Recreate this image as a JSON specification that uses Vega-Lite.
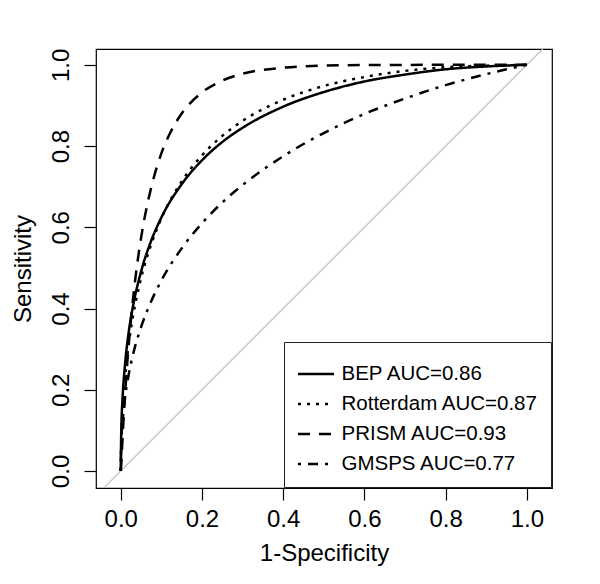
{
  "$schema": "https://vega.github.io/schema/vega-lite/v6.json",
  "autosize": {"type": "none"},
  "padding": {"left": 96, "top": 49, "right": 48, "bottom": 96},
  "width": 456,
  "height": 439,
  "background": "white",
  "config": {
    "view": {"stroke": "black", "strokeWidth": 1.2},
    "axis": {
      "domain": false,
      "grid": false,
      "tickColor": "black",
      "tickWidth": 1.2,
      "tickSize": 12,
      "labelFont": "Liberation Sans",
      "labelFontSize": 24,
      "labelColor": "black",
      "titleFont": "Liberation Sans",
      "titleFontSize": 24,
      "titleFontWeight": "normal",
      "titleColor": "black",
      "labelFlush": false
    },
    "legend": {
      "orient": "none",
      "legendX": 188,
      "legendY": 293,
      "symbolType": "stroke",
      "symbolSize": 1296,
      "symbolStrokeWidth": 2.5,
      "symbolStrokeColor": "black",
      "labelFont": "Liberation Sans",
      "labelFontSize": 20.5,
      "labelColor": "black",
      "labelOffset": 6,
      "labelLimit": 400,
      "padding": 12.5,
      "rowPadding": -9.3,
      "strokeColor": "#222222",
      "fillColor": "white"
    }
  },
  "datasets": {
    "diag": [{"fpr": -0.1, "tpr": -0.1}, {"fpr": 1.1, "tpr": 1.1}],
    "roc": [
      {"model": "BEP AUC=0.86", "fpr": 0, "tpr": 0},
      {"model": "BEP AUC=0.86", "fpr": 0.001, "tpr": 0.087},
      {"model": "BEP AUC=0.86", "fpr": 0.005, "tpr": 0.189},
      {"model": "BEP AUC=0.86", "fpr": 0.01, "tpr": 0.257},
      {"model": "BEP AUC=0.86", "fpr": 0.02, "tpr": 0.345},
      {"model": "BEP AUC=0.86", "fpr": 0.03, "tpr": 0.405},
      {"model": "BEP AUC=0.86", "fpr": 0.05, "tpr": 0.491},
      {"model": "BEP AUC=0.86", "fpr": 0.075, "tpr": 0.567},
      {"model": "BEP AUC=0.86", "fpr": 0.1, "tpr": 0.624},
      {"model": "BEP AUC=0.86", "fpr": 0.15, "tpr": 0.706},
      {"model": "BEP AUC=0.86", "fpr": 0.2, "tpr": 0.765},
      {"model": "BEP AUC=0.86", "fpr": 0.25, "tpr": 0.810},
      {"model": "BEP AUC=0.86", "fpr": 0.3, "tpr": 0.845},
      {"model": "BEP AUC=0.86", "fpr": 0.4, "tpr": 0.897},
      {"model": "BEP AUC=0.86", "fpr": 0.5, "tpr": 0.933},
      {"model": "BEP AUC=0.86", "fpr": 0.6, "tpr": 0.959},
      {"model": "BEP AUC=0.86", "fpr": 0.7, "tpr": 0.976},
      {"model": "BEP AUC=0.86", "fpr": 0.8, "tpr": 0.989},
      {"model": "BEP AUC=0.86", "fpr": 0.9, "tpr": 0.996},
      {"model": "BEP AUC=0.86", "fpr": 1, "tpr": 1},
      {"model": "Rotterdam AUC=0.87", "fpr": 0, "tpr": 0},
      {"model": "Rotterdam AUC=0.87", "fpr": 0.001, "tpr": 0.061},
      {"model": "Rotterdam AUC=0.87", "fpr": 0.005, "tpr": 0.154},
      {"model": "Rotterdam AUC=0.87", "fpr": 0.01, "tpr": 0.223},
      {"model": "Rotterdam AUC=0.87", "fpr": 0.02, "tpr": 0.315},
      {"model": "Rotterdam AUC=0.87", "fpr": 0.03, "tpr": 0.380},
      {"model": "Rotterdam AUC=0.87", "fpr": 0.05, "tpr": 0.475},
      {"model": "Rotterdam AUC=0.87", "fpr": 0.075, "tpr": 0.558},
      {"model": "Rotterdam AUC=0.87", "fpr": 0.1, "tpr": 0.622},
      {"model": "Rotterdam AUC=0.87", "fpr": 0.15, "tpr": 0.713},
      {"model": "Rotterdam AUC=0.87", "fpr": 0.2, "tpr": 0.777},
      {"model": "Rotterdam AUC=0.87", "fpr": 0.25, "tpr": 0.825},
      {"model": "Rotterdam AUC=0.87", "fpr": 0.3, "tpr": 0.862},
      {"model": "Rotterdam AUC=0.87", "fpr": 0.4, "tpr": 0.914},
      {"model": "Rotterdam AUC=0.87", "fpr": 0.5, "tpr": 0.948},
      {"model": "Rotterdam AUC=0.87", "fpr": 0.6, "tpr": 0.970},
      {"model": "Rotterdam AUC=0.87", "fpr": 0.7, "tpr": 0.985},
      {"model": "Rotterdam AUC=0.87", "fpr": 0.8, "tpr": 0.994},
      {"model": "Rotterdam AUC=0.87", "fpr": 0.9, "tpr": 0.998},
      {"model": "Rotterdam AUC=0.87", "fpr": 1, "tpr": 1},
      {"model": "PRISM AUC=0.93", "fpr": 0, "tpr": 0},
      {"model": "PRISM AUC=0.93", "fpr": 0.001, "tpr": 0.015},
      {"model": "PRISM AUC=0.93", "fpr": 0.0025, "tpr": 0.045},
      {"model": "PRISM AUC=0.93", "fpr": 0.005, "tpr": 0.093},
      {"model": "PRISM AUC=0.93", "fpr": 0.01, "tpr": 0.179},
      {"model": "PRISM AUC=0.93", "fpr": 0.015, "tpr": 0.253},
      {"model": "PRISM AUC=0.93", "fpr": 0.02, "tpr": 0.316},
      {"model": "PRISM AUC=0.93", "fpr": 0.03, "tpr": 0.422},
      {"model": "PRISM AUC=0.93", "fpr": 0.04, "tpr": 0.506},
      {"model": "PRISM AUC=0.93", "fpr": 0.05, "tpr": 0.574},
      {"model": "PRISM AUC=0.93", "fpr": 0.06, "tpr": 0.630},
      {"model": "PRISM AUC=0.93", "fpr": 0.075, "tpr": 0.698},
      {"model": "PRISM AUC=0.93", "fpr": 0.1, "tpr": 0.782},
      {"model": "PRISM AUC=0.93", "fpr": 0.125, "tpr": 0.839},
      {"model": "PRISM AUC=0.93", "fpr": 0.15, "tpr": 0.880},
      {"model": "PRISM AUC=0.93", "fpr": 0.2, "tpr": 0.932},
      {"model": "PRISM AUC=0.93", "fpr": 0.25, "tpr": 0.961},
      {"model": "PRISM AUC=0.93", "fpr": 0.3, "tpr": 0.978},
      {"model": "PRISM AUC=0.93", "fpr": 0.4, "tpr": 0.993},
      {"model": "PRISM AUC=0.93", "fpr": 0.5, "tpr": 0.998},
      {"model": "PRISM AUC=0.93", "fpr": 0.6, "tpr": 0.9995},
      {"model": "PRISM AUC=0.93", "fpr": 0.8, "tpr": 1},
      {"model": "PRISM AUC=0.93", "fpr": 1, "tpr": 1},
      {"model": "GMSPS AUC=0.77", "fpr": 0, "tpr": 0},
      {"model": "GMSPS AUC=0.77", "fpr": 0.001, "tpr": 0.061},
      {"model": "GMSPS AUC=0.77", "fpr": 0.005, "tpr": 0.129},
      {"model": "GMSPS AUC=0.77", "fpr": 0.01, "tpr": 0.177},
      {"model": "GMSPS AUC=0.77", "fpr": 0.02, "tpr": 0.240},
      {"model": "GMSPS AUC=0.77", "fpr": 0.03, "tpr": 0.286},
      {"model": "GMSPS AUC=0.77", "fpr": 0.05, "tpr": 0.354},
      {"model": "GMSPS AUC=0.77", "fpr": 0.075, "tpr": 0.418},
      {"model": "GMSPS AUC=0.77", "fpr": 0.1, "tpr": 0.469},
      {"model": "GMSPS AUC=0.77", "fpr": 0.15, "tpr": 0.548},
      {"model": "GMSPS AUC=0.77", "fpr": 0.2, "tpr": 0.610},
      {"model": "GMSPS AUC=0.77", "fpr": 0.25, "tpr": 0.661},
      {"model": "GMSPS AUC=0.77", "fpr": 0.3, "tpr": 0.704},
      {"model": "GMSPS AUC=0.77", "fpr": 0.4, "tpr": 0.775},
      {"model": "GMSPS AUC=0.77", "fpr": 0.5, "tpr": 0.832},
      {"model": "GMSPS AUC=0.77", "fpr": 0.6, "tpr": 0.879},
      {"model": "GMSPS AUC=0.77", "fpr": 0.7, "tpr": 0.917},
      {"model": "GMSPS AUC=0.77", "fpr": 0.8, "tpr": 0.950},
      {"model": "GMSPS AUC=0.77", "fpr": 0.9, "tpr": 0.977},
      {"model": "GMSPS AUC=0.77", "fpr": 0.95, "tpr": 0.989},
      {"model": "GMSPS AUC=0.77", "fpr": 1, "tpr": 1}
    ]
  },
  "encoding": {
    "x": {
      "field": "fpr", "type": "quantitative",
      "scale": {"domain": [-0.061, 1.062], "nice": false, "zero": false},
      "axis": {"title": "1-Specificity", "values": [0, 0.2, 0.4, 0.6, 0.8, 1], "format": ".1f", "labelPadding": 7, "titlePadding": 10}
    },
    "y": {
      "field": "tpr", "type": "quantitative",
      "scale": {"domain": [-0.042, 1.039], "nice": false, "zero": false},
      "axis": {"title": "Sensitivity", "values": [0, 0.2, 0.4, 0.6, 0.8, 1], "format": ".1f", "labelAngle": -90, "labelAlign": "center", "labelBaseline": "bottom", "labelPadding": 11, "titlePadding": 14}
    }
  },
  "layer": [
    {
      "data": {"name": "diag"},
      "mark": {"type": "line", "color": "#bebebe", "strokeWidth": 1.2, "clip": true}
    },
    {
      "data": {"name": "roc"},
      "mark": {"type": "line", "color": "black", "strokeWidth": 2.5, "interpolate": "monotone", "clip": true},
      "encoding": {
        "strokeDash": {
          "field": "model", "type": "nominal",
          "scale": {
            "domain": ["BEP AUC=0.86", "Rotterdam AUC=0.87", "PRISM AUC=0.93", "GMSPS AUC=0.77"],
            "range": [[1, 0], [3, 6], [12, 9], [3, 7, 10, 7]]
          },
          "legend": {"title": null}
        }
      }
    }
  ]
}
